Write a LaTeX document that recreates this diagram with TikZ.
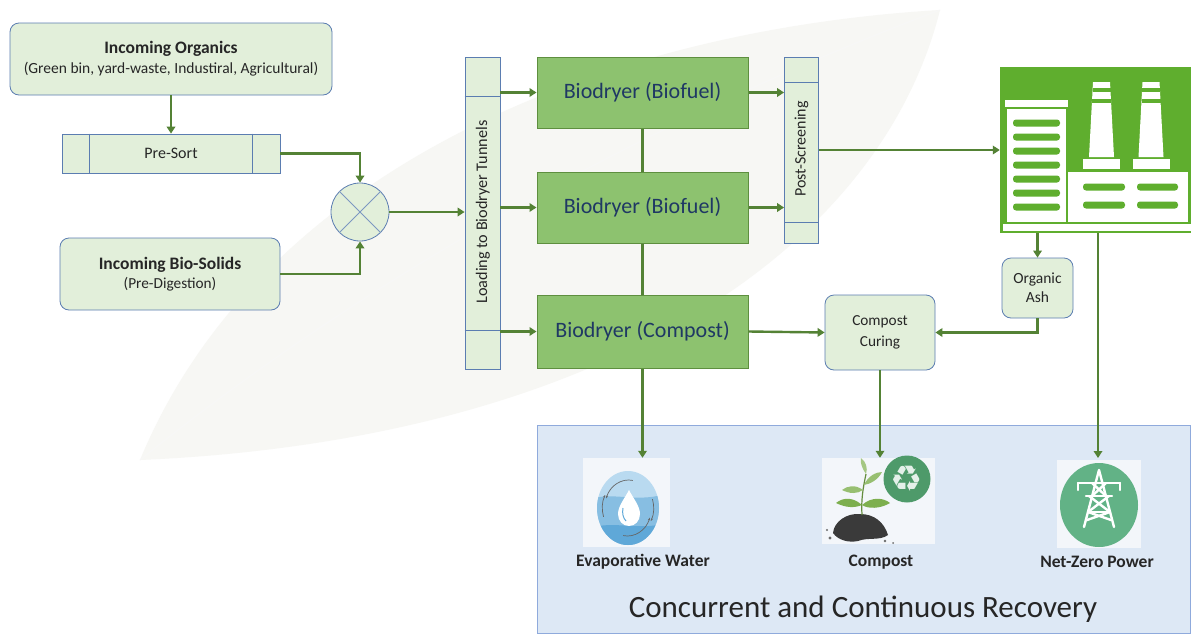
\documentclass[tikz,border=0pt]{standalone}
\usepackage{fontspec}
\setmainfont{Carlito}
\newfontfamily\symfont{DejaVu Sans}
\usetikzlibrary{arrows.meta,calc,shapes.geometric}

\definecolor{boxfill}{HTML}{E2EFDA}
\definecolor{boxline}{HTML}{5B7DB1}
\definecolor{flow}{HTML}{548235}
\definecolor{dryfill}{HTML}{8DC26F}
\definecolor{dryline}{HTML}{5E8F3F}
\definecolor{drytext}{HTML}{1F3864}
\definecolor{plantgreen}{HTML}{5FAE2E}
\definecolor{recfill}{HTML}{DDE8F5}
\definecolor{recline}{HTML}{8FAADC}
\definecolor{iconbg}{HTML}{F3F6FA}
\definecolor{waterblue}{HTML}{5FA8D8}
\definecolor{waterlight}{HTML}{B9DAF0}
\definecolor{recgreen}{HTML}{4E9A6A}
\definecolor{pylongreen}{HTML}{62B286}
\definecolor{soil}{HTML}{3A3A3A}
\definecolor{leafgreen}{HTML}{7DAF4E}
\definecolor{watermark}{HTML}{F7F7F4}

\tikzset{
  roundbox/.style={draw=boxline, fill=boxfill, rounded corners=9pt, line width=0.8pt, align=center, text=black!85},
  flatbox/.style={draw=boxline, fill=boxfill, line width=0.8pt, inner sep=0pt, text=black!85},
  drybox/.style={draw=dryline, fill=dryfill, line width=1pt, text=drytext, font=\fontsize{22}{26}\selectfont,
                 minimum width=211, minimum height=71},
  flowarrow/.style={draw=flow, line width=2.4pt, -{Triangle[length=7pt,width=8.5pt]}},
  flowline/.style={draw=flow, line width=2.4pt},
  stripe/.style={fill=plantgreen, rounded corners=3pt},
  iconbox/.style={fill=iconbg, draw=none, inner sep=0pt},
  iconlabel/.style={font=\bfseries\fontsize{17.5}{20}\selectfont, text=black!85},
}

\begin{document}
\begin{tikzpicture}[x=1pt, y=-1pt]
\useasboundingbox (0,0) rectangle (1191,635);
\fill[white] (0,0) rectangle (1191,635);

% faint leaf watermark in the background
\fill[watermark] (140,460) .. controls (260,170) and (600,30) .. (940,10)
   .. controls (880,250) and (600,440) .. cycle;
\draw[black!3, line width=1pt] (140,460) .. controls (400,250) and (700,100) .. (940,10);

% ---------- input side ----------
\node[roundbox, minimum width=322, minimum height=72] (org) at (171,59)
  {{\bfseries\fontsize{17.5}{20}\selectfont Incoming Organics}\\[5pt]
   {\fontsize{15.5}{18}\selectfont (Green bin, yard-waste, Industiral, Agricultural)}};

\node[flatbox, minimum width=218, minimum height=39, font=\fontsize{16}{18}\selectfont] (presort) at (171,153.5) {Pre-Sort};
\draw[boxline, line width=0.8pt] ($(presort.north west)+(28,0)$) -- ($(presort.south west)+(28,0)$)
                                 ($(presort.north east)+(-28,0)$) -- ($(presort.south east)+(-28,0)$);

\node[roundbox, minimum width=220, minimum height=72] (bio) at (170,274)
  {{\bfseries\fontsize{17.5}{20}\selectfont Incoming Bio-Solids}\\[4pt]
   {\fontsize{15.3}{18}\selectfont (Pre-Digestion)}};

\node[circle, draw=boxline, fill=boxfill, line width=0.8pt, minimum size=58, inner sep=0pt] (mix) at (360,212) {};
\draw[boxline!80, line width=0.8pt] (mix.north west) -- (mix.south east) (mix.north east) -- (mix.south west);

% ---------- loading and biodryers ----------
\node[flatbox, minimum width=35, minimum height=312] (load) at (482.5,213) {};
\draw[boxline, line width=0.8pt] (load.west |- 0,96) -- (load.east |- 0,96)
                                 (load.west |- 0,330) -- (load.east |- 0,330);
\node[rotate=90, font=\fontsize{16.2}{18}\selectfont, text=black!85] (loadtxt) at (483,212) {Loading to Biodryer Tunnels};

\node[drybox] (b1) at (642.5,92.5) {Biodryer (Biofuel)};
\node[drybox] (b2) at (642.5,207.5) {Biodryer (Biofuel)};
\node[drybox, minimum height=73] (b3) at (642.5,331.5) {Biodryer (Compost)};

\node[flatbox, minimum width=34, minimum height=186] (post) at (801.5,150) {};
\draw[boxline, line width=0.8pt] (post.west |- 0,82) -- (post.east |- 0,82)
                                 (post.west |- 0,222) -- (post.east |- 0,222);
\node[rotate=90, font=\fontsize{16}{18}\selectfont, text=black!85] (posttxt) at (801.5,149) {Post-Screening};

% ---------- power plant ----------
\node[fill=plantgreen, inner sep=0pt, minimum width=191, minimum height=166] (fac) at (1095.5,150) {};
\fill[white] (1003,224) rectangle (1191,230.5);
% office block
\fill[white] (1005,100) rectangle (1068,107);
\fill[white] (1007,108.5) rectangle (1066,222);
\foreach \y in {123,137,151,165,179,193,207}
  \fill[stripe] (1013,\y-3.5) rectangle (1060,\y+3.5);
% chimneys
\foreach \cx in {1101.5,1151} {
  \fill[white] (\cx-8.5,82) -- (\cx+8.5,82) -- (\cx+12.5,157) -- (\cx-12.5,157) -- cycle;
  \fill[plantgreen] (\cx-9,88) rectangle (\cx+9,92);
  \fill[plantgreen] (\cx-9.5,99) rectangle (\cx+9.5,103);
  \fill[white] (\cx-18.5,159) rectangle (\cx+18.5,169);
}
% production hall
\fill[white] (1068,172) rectangle (1188,222);
\foreach \y in {187,205} {
  \fill[stripe] (1083,\y-3.5) rectangle (1125,\y+3.5);
  \fill[stripe] (1137,\y-3.5) rectangle (1178,\y+3.5);
}

\node[roundbox, minimum width=71, minimum height=60, font=\fontsize{15.5}{19}\selectfont] (ash) at (1037.5,288) {Organic\\Ash};
\node[roundbox, minimum width=110, minimum height=75, font=\fontsize{15.3}{21}\selectfont] (cure) at (880,332.5) {Compost\\Curing};

% ---------- recovery panel ----------
\node[draw=recline, fill=recfill, line width=1pt, minimum width=653, minimum height=208, inner sep=0pt] (rec) at (863.5,529) {};

% evaporative water icon
\node[iconbox, minimum width=87, minimum height=89] (wat) at (626,502.5) {};
\begin{scope}
  \clip (628,508) ellipse [x radius=31, y radius=37];
  \fill[waterlight] (590,460) rectangle (670,555);
  \fill[waterblue!75] (590,500) .. controls (610,490) and (640,505) .. (670,492) -- (670,555) -- (590,555) -- cycle;
  \fill[waterblue] (590,528) .. controls (615,520) and (640,532) .. (670,522) -- (670,555) -- (590,555) -- cycle;
\end{scope}
\begin{scope}[black!60, line width=0.7pt, -{Stealth[length=3pt]}]
  \draw (628,508) ++(100:28) arc[start angle=100, end angle=20, x radius=24, y radius=28];
  \draw (628,508) ++(-80:28) arc[start angle=-80, end angle=-160, x radius=24, y radius=28];
  \draw (628,508) ++(160:26) arc[start angle=160, end angle=210, x radius=21, y radius=26];
  \draw (628,508) ++(-20:26) arc[start angle=-20, end angle=30, x radius=21, y radius=26];
\end{scope}
\fill[white] (629,490) .. controls (633,498) and (640,506) .. (640,514)
  .. controls (640,521) and (635,526) .. (629,526) .. controls (623,526) and (618,521) .. (618,514)
  .. controls (618,506) and (625,498) .. cycle;
\draw[waterblue, line width=1pt] (623,508) .. controls (622,513) and (623,518) .. (626,521);

% compost icon
\node[iconbox, minimum width=113, minimum height=86] (cmp) at (878.5,501) {};
\fill[recgreen] (907,479) circle [radius=23.5];
\node[text=white!85!recgreen, font=\symfont\fontsize{36}{36}\selectfont] (recsym) at (907,479) {♻};
\fill[soil] (833,533) .. controls (834,522) and (846,513) .. (860,514)
  .. controls (874,514) and (884,522) .. (888,535) .. controls (880,541) and (868,537) .. (858,541)
  .. controls (848,543) and (838,540) .. cycle;
\fill[soil!75] (830,538) circle [radius=1.6] (885,541) circle [radius=1.4] (893,543) circle [radius=1] (827,530) circle [radius=1.2];
\draw[leafgreen!80!black, line width=1.2pt] (862,515) .. controls (861,500) and (863,488) .. (866,474);
\fill[leafgreen] (862,505) .. controls (852,496) and (842,498) .. (836,503) .. controls (846,508) and (855,508) .. cycle;
\fill[leafgreen] (862,505) .. controls (872,496) and (884,498) .. (890,503) .. controls (880,509) and (868,509) .. cycle;
\fill[leafgreen!80] (863,490) .. controls (855,484) and (847,486) .. (842,490) .. controls (850,494) and (857,494) .. cycle;
\fill[leafgreen!80] (864,485) .. controls (868,476) and (876,472) .. (882,472) .. controls (878,480) and (870,484) .. cycle;
\fill[leafgreen!70] (866,474) .. controls (862,468) and (860,463) .. (861,458) .. controls (866,462) and (868,468) .. cycle;

% net-zero power icon
\node[iconbox, minimum width=84, minimum height=88] (pwr) at (1099,504) {};
\fill[pylongreen] (1099,505) ellipse [x radius=39, y radius=42];
\begin{scope}[white, line width=2.4pt, line cap=round, line join=round]
  \draw (1099,470) -- (1084,527) (1099,470) -- (1114,527);
  \draw (1078,483) -- (1120,483);
  \draw (1078,483) -- (1078,490) (1120,483) -- (1120,490);
  \draw (1086,496) -- (1112,496);
  \draw (1089,496) -- (1110,512) -- (1087,520) (1109,496) -- (1088,512) -- (1111,520);
  \draw (1088,512) -- (1110,512);
  \draw (1092,483) -- (1106,496) (1106,483) -- (1092,496);
\end{scope}

\node[iconlabel] (watlbl) at (643,562) {Evaporative Water};
\node[iconlabel] (cmplbl) at (881,562) {Compost};
\node[iconlabel] (pwrlbl) at (1097,562) {Net-Zero Power};
\node[font=\fontsize{31}{36}\selectfont, text=black!85] (rectitle) at (863,609) {Concurrent and Continuous Recovery};

% ---------- connectors ----------
\draw[flowarrow] (org.south) -- (presort.north);
\draw[flowarrow] (presort.east) -| (mix.north);
\draw[flowarrow] (bio.east) -| (mix.south);
\draw[flowarrow] (mix.east) -- (mix.east -| load.west);
\draw[flowarrow] (load.east |- b1.west) -- (b1.west);
\draw[flowarrow] (load.east |- b2.west) -- (b2.west);
\draw[flowarrow] (load.east |- b3.west) -- (b3.west);
\draw[flowline] (b1.south) -- (b2.north);
\draw[flowline] (b2.south) -- (b3.north);
\draw[flowarrow] (b1.east) -- (b1.east -| post.west);
\draw[flowarrow] (b2.east) -- (b2.east -| post.west);
\draw[flowarrow] (post.east) -- (post.east -| fac.west);
\draw[flowarrow] (b3.east) -- (cure.west);
\draw[flowarrow] (ash.north |- fac.south) -- (ash.north);
\draw[flowarrow] (ash.south) |- (cure.east);
\draw[flowarrow] (1098,233) -- (1098,458);
\draw[flowarrow] (cure.south) -- (cure.south |- cmp.north);
\draw[flowarrow] (b3.south) -- (b3.south |- wat.north);
\end{tikzpicture}
\end{document}
